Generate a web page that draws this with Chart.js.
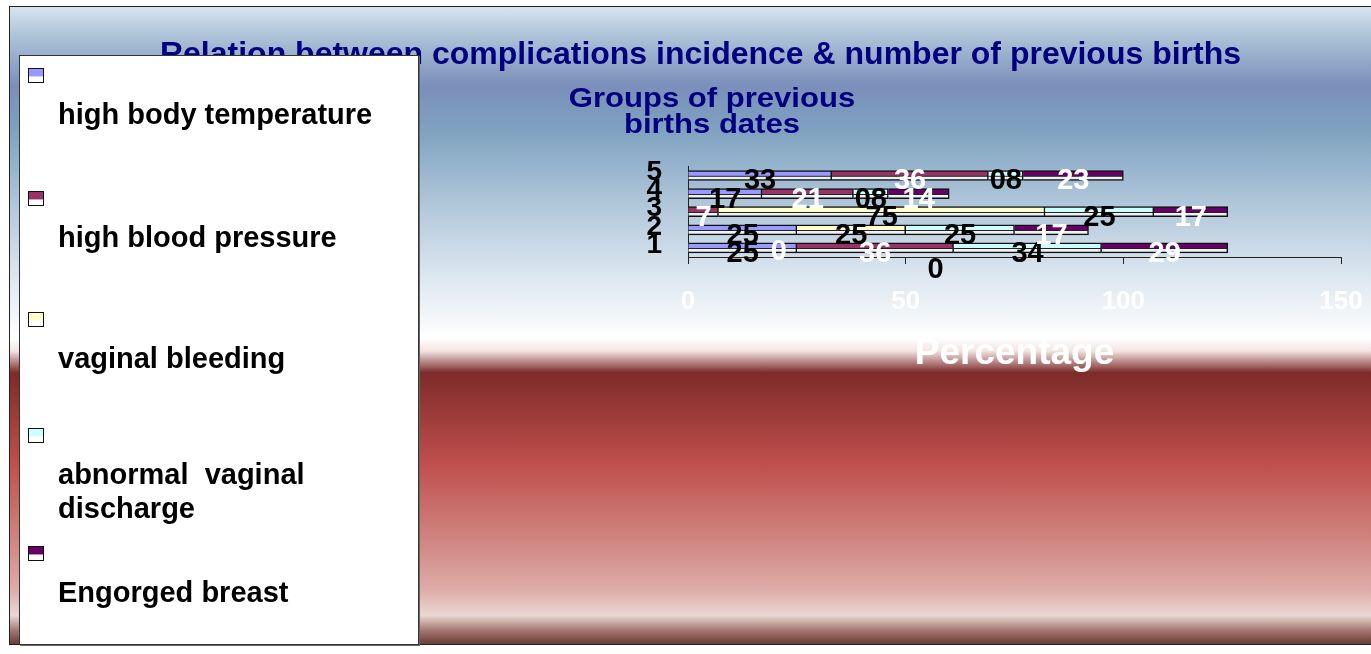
<!DOCTYPE html>
<html>
<head>
<meta charset="utf-8">
<title>Complications vs previous births</title>
<script src="https://cdn.jsdelivr.net/npm/chart.js@4.4.1/dist/chart.umd.min.js"></script>
<style>
  body { margin: 0; width: 1371px; height: 654px; overflow: hidden; background: #fff; font-family: Arial, "Liberation Sans", sans-serif; }
  #bg {
    position: absolute; left: 9px; top: 6px; width: 1362px; height: 637px;
    border: 1px solid #222; border-right: none;
    background: linear-gradient(to bottom, #d6e4ef 0%, #a9c0d6 5%, #7a8fba 12.4%, #7fa2c0 19.4%, #aec5d9 30.4%,
      #d9e4ee 41.4%, #ffffff 52%, #f2e4e2 54%, #7d2b29 57.4%, #c0504d 71.9%, #d08580 83.7%, #deaca8 91.5%,
      #ead8d2 95.5%, #a57a73 97.8%, #6b3b35 100%);
  }
  #wrap { position: absolute; left: 0; top: 0; width: 1371px; height: 654px; }
  #legend {
    position: absolute; left: 19px; top: 55px; width: 398px; height: 588px;
    background: #fff; border: 1px solid #333; box-shadow: 1px 1px 0 #666;
  }
  .sw { position: absolute; left: 8px; width: 14px; height: 13px; border: 1px solid #111; }
  .lt { position: absolute; left: 38px; width: 330px; font-weight: bold; font-size: 29px; line-height: 34px; color: #000; white-space: pre-wrap; }
</style>
</head>
<body>
<div id="bg"></div>
<div id="wrap"><canvas id="myChart"></canvas></div>
<div id="legend"></div>
<script>
// data
const categories = ['1', '2', '3', '4', '5'];
const seriesNames = ['high body temperature', 'high blood pressure', 'vaginal bleeding', 'abnormal  vaginal discharge', 'Engorged breast'];
const bodyTemp = [25, 25, null, 17, 33];
const bloodPressure = [36, 0, 7, 21, 36];
const vaginalBleeding = [0, 25, 75, null, null];
const abnormalDischarge = [34, 25, 25, 8, 8];
const engorgedBreast = [29, 17, 17, 14, 23];
const xTicks = [0, 50, 100, 150];

const seriesColors = ['#9999ff', '#993366', '#ffffcc', '#ccffff', '#660066'];
const labelColors = ['#000', '#fff', '#000', '#000', '#fff'];
const allSeries = [bodyTemp, bloodPressure, vaginalBleeding, abnormalDischarge, engorgedBreast];

const chartTitle = 'Relation between complications incidence & number of previous births';
const yTitle = ['Groups of previous', 'births dates'];
const xTitle = 'Percentage';

// legend (html, sits on top of the chart like the excel one)
const legendTops = [12, 135, 256, 372, 490];
const legendEl = document.querySelector('#legend');
seriesNames.forEach((name, i) => {
  const sw = document.createElement('div');
  sw.className = 'sw';
  sw.style.top = legendTops[i] + 'px';
  sw.style.background = `linear-gradient(to bottom, ${seriesColors[i]} 0%, ${seriesColors[i]} 55%, #fff 60%, #fff 100%)`;
  legendEl.appendChild(sw);
  const lt = document.createElement('div');
  lt.className = 'lt';
  lt.style.top = (legendTops[i] + 29) + 'px';
  lt.innerText = name;
  legendEl.appendChild(lt);
});

// two tone bar fill, like the 3d bars
function barFill(color) {
  return (c) => {
    const yS = c.chart.scales.y;
    if (c.type !== 'data' || !yS) return color;
    const yc = yS.getPixelForValue(c.dataIndex);
    if (!Number.isFinite(yc)) return color;
    const g = c.chart.ctx.createLinearGradient(0, yc - 5, 0, yc + 5);
    g.addColorStop(0, color);
    g.addColorStop(0.5, color);
    g.addColorStop(0.52, '#222');
    g.addColorStop(0.6, '#222');
    g.addColorStop(0.62, '#f2f4f8');
    g.addColorStop(1, '#e4e8f0');
    return g;
  };
}

const barLabels = {
  id: 'barLabels',
  afterDatasetsDraw(chart) {
    const ctx = chart.ctx;
    ctx.save();
    ctx.font = 'bold 29px Arial, "Liberation Sans"';
    ctx.textAlign = 'center';
    ctx.textBaseline = 'middle';
    chart.data.datasets.forEach((ds, i) => {
      chart.getDatasetMeta(i).data.forEach((bar, j) => {
        const v = ds.data[j];
        if (v === null || v === undefined) return;
        let x = (bar.x + bar.base) / 2;
        let y = bar.y + 6;
        if (v === 0) { x -= 18; y += 16; }
        ctx.fillStyle = labelColors[i];
        const txt = (i === 3 && v < 10) ? String(v).padStart(2, '0') : String(v);
        ctx.fillText(txt, x, y);
      });
    });
    ctx.restore();
  }
};

const yTitlePlugin = {
  id: 'yTitlePlugin',
  afterDraw(chart) {
    const ctx = chart.ctx;
    ctx.save();
    ctx.font = 'bold 27px Arial, "Liberation Sans"';
    ctx.fillStyle = '#000080';
    ctx.textAlign = 'center';
    ctx.textBaseline = 'middle';
    yTitle.forEach((line, k) => {
      ctx.save();
      ctx.translate(712, 100 + k * 26);
      ctx.scale(1.15, 1);
      ctx.fillText(line, 0, 0);
      ctx.restore();
    });
    ctx.restore();
  }
};

const datasets = allSeries.map((arr, i) => ({
  label: seriesNames[i],
  data: arr,
  backgroundColor: barFill(seriesColors[i]),
  borderColor: '#111',
  borderWidth: 1.5,
  barThickness: 10
}));

const ctx = document.querySelector('#myChart');
const myChart = new Chart(ctx, {
  type: 'bar',
  data: { labels: categories, datasets: datasets },
  plugins: [barLabels, yTitlePlugin],
  options: {
    indexAxis: 'y',
    responsive: true,
    maintainAspectRatio: false,
    animation: false,
    layout: { padding: { left: 60, right: 30, top: 0, bottom: 278 } },
    plugins: {
      legend: { display: false },
      tooltip: { enabled: false },
      title: {
        display: true,
        text: chartTitle,
        color: '#000080',
        font: { family: 'Arial, "Liberation Sans"', size: 32, weight: 'bold' },
        padding: { top: 36, bottom: 92 }
      }
    },
    scales: {
      x: {
        stacked: true,
        min: 0,
        max: 150,
        afterBuildTicks: (scale) => { scale.ticks = xTicks.map((v) => ({ value: v })); },
        afterFit: (scale) => {
          scale.height = 119;
          scale.paddingLeft = 0;
          scale.paddingRight = 0;
        },
        grid: { drawOnChartArea: false, drawTicks: true, tickLength: 7, color: '#222' },
        border: { display: true, color: '#222', width: 1 },
        ticks: {
          color: '#fff',
          padding: 22,
          font: { family: 'Arial, "Liberation Sans"', size: 26, weight: 'bold' }
        },
        title: {
          display: true,
          text: xTitle,
          color: '#fff',
          padding: 0,
          font: { family: 'Arial, "Liberation Sans"', size: 37, weight: 'bold' }
        }
      },
      y: {
        stacked: true,
        reverse: true,
        afterFit: (scale) => { scale.width = 628; },
        grid: { display: false, drawTicks: false },
        border: { display: true, color: '#222', width: 1 },
        ticks: {
          color: '#000',
          padding: 26,
          labelOffset: -3,
          autoSkip: false,
          font: { family: 'Arial, "Liberation Sans"', size: 28, weight: 'bold' }
        }
      }
    }
  }
});
</script>
</body>
</html>
